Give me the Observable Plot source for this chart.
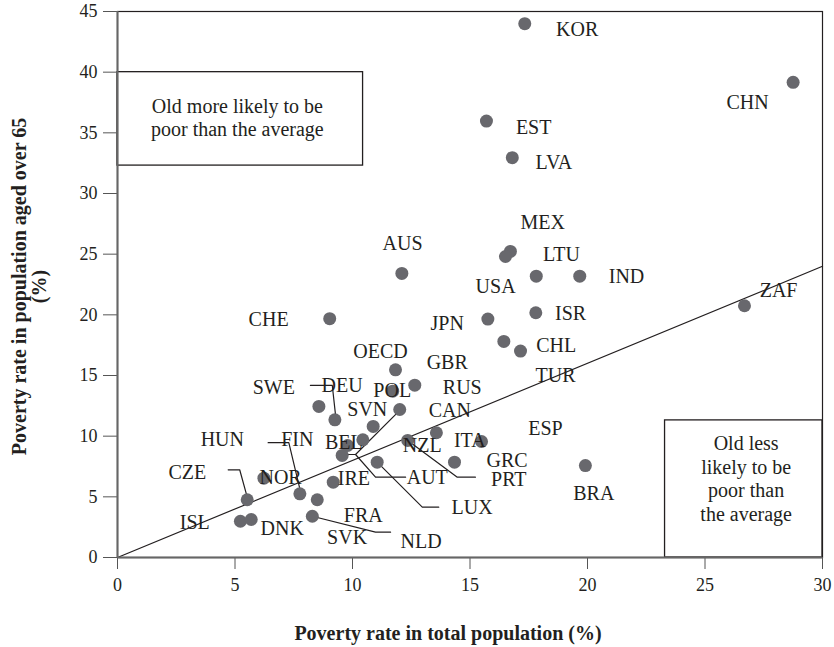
<!DOCTYPE html>
<html>
<head>
<meta charset="utf-8">
<script src="https://cdn.jsdelivr.net/npm/d3@7"></script>
<script src="https://cdn.jsdelivr.net/npm/@observablehq/plot@0.6"></script>
<style>
  body { margin: 0; background: #fff; }
  #chart svg { display: block; }
</style>
</head>
<body>
<div id="chart"></div>
<script>
// ---- Data ----
// Points: country, poverty rate in total population (%), poverty rate aged over 65 (%)
const countries = ["KOR","CHN","EST","LVA","MEX","USA","LTU","IND","AUS","ZAF","ISR","JPN","CHE","CHL","TUR","OECD","GBR","POL","SVN","SWE","DEU","RUS","BEL","HUN","AUT","LUX","CAN","NZL","ITA","GRC","BRA","IRE","FRA","FIN","SVK","NOR","CZE","ISL","DNK"];
const totalPoverty = [17.33,28.75,15.7,16.8,16.72,16.51,17.82,19.67,12.1,26.68,17.8,15.76,9.03,16.44,17.15,11.83,12.65,11.71,12.01,8.57,9.25,10.88,10.44,9.79,9.56,11.05,13.57,12.35,15.49,14.34,19.91,9.18,8.5,7.76,8.29,6.23,5.52,5.23,5.69];
const elderlyPoverty = [44.0,39.16,35.97,32.95,25.23,24.81,23.19,23.19,23.41,20.75,20.17,19.65,19.68,17.81,17.01,15.47,14.2,13.71,12.2,12.45,11.35,10.8,9.7,9.23,8.41,7.86,10.28,9.65,9.56,7.86,7.58,6.21,4.76,5.25,3.4,6.54,4.76,2.99,3.13];

// Country labels and where they sit (in data units)
const labelNames = ["KOR","CHN","EST","LVA","MEX","LTU","IND","AUS","USA","ZAF","ISR","CHE","JPN","OECD","CHL","GBR","TUR","SWE","DEU","POL","RUS","SVN","CAN","HUN","FIN","BEL","NZL","ITA","ESP","CZE","NOR","IRE","AUT","GRC","PRT","BRA","LUX","ISL","DNK","FRA","SVK","NLD"];
const labelX = [19.56,26.81,17.71,18.57,18.09,18.89,21.66,12.13,16.09,28.13,19.28,6.43,14.03,11.19,18.67,14.03,18.64,6.65,9.56,11.69,14.67,10.63,14.14,4.46,7.65,9.63,12.97,14.99,18.21,2.97,6.94,10.06,13.18,16.58,16.65,20.27,15.09,3.29,7.01,10.46,9.77,12.92];
const labelY = [43.5,37.53,35.47,32.54,27.61,24.98,23.19,25.89,22.34,22.01,20.12,19.58,19.29,17.01,17.48,16.1,15.0,14.04,14.18,13.77,14.02,12.2,12.12,9.7,9.7,9.51,9.23,9.65,10.61,7.03,6.62,6.49,6.62,8.0,6.43,5.25,4.15,2.91,2.37,3.46,1.67,1.34];

// Leader lines (polylines in data units)
const leaderLines = [
  [[8.21,14.18],[9.14,14.18],[9.28,11.71]],
  [[6.41,9.46],[7.29,9.46],[7.76,5.66]],
  [[4.71,7.23],[5.2,7.23],[5.52,4.97]],
  [[12.01,12.12],[10.13,8.49]],
  [[9.77,8.49],[10.13,8.49],[10.98,6.62],[12.26,6.62]],
  [[11.05,7.86],[12.97,4.15],[13.67,4.15]],
  [[12.35,9.65],[14.46,6.62],[15.23,6.62]],
  [[8.29,3.4],[10.98,2.09],[11.62,2.09]]
];

// Reference line
const refLineX = [0, 30];
const refLineY = [0, 24];

// Annotation boxes
const boxText = ["Old more likely to be\npoor than the average", "Old less\nlikely to be\npoor than\nthe average"];
const boxX1 = [0, 23.3];
const boxX2 = [10.45, 30];
const boxY1 = [32.3, 0];
const boxY2 = [40, 11.3];
const boxTextX = [5.1, 26.75];
const boxTextY = [36.3, 6.55];

// Axes
const xTicks = [0,5,10,15,20,25,30];
const yTicks = [0,5,10,15,20,25,30,35,40,45];
const xTitle = "Poverty rate in total population (%)";
const yTitle = "Poverty rate in population aged over 65\n(%)";

// ---- Build tables ----
const points = countries.map((c, i) => ({country: c, x: totalPoverty[i], y: elderlyPoverty[i]}));
const labels = labelNames.map((n, i) => ({name: n, x: labelX[i], y: labelY[i]}));
const leaders = leaderLines.flatMap((pts, g) => pts.map(([x, y]) => ({g, x, y})));
const ref = refLineX.map((x, i) => ({x, y: refLineY[i]}));
const boxes = boxText.map((t, i) => ({t, x1: boxX1[i], x2: boxX2[i], y1: boxY1[i], y2: boxY2[i], tx: boxTextX[i], ty: boxTextY[i]}));

const ink = "#231f20";
const font = "'Liberation Serif', 'Times New Roman', serif";

const chart = Plot.plot({
  width: 834,
  height: 647,
  marginLeft: 117,
  marginRight: 12,
  marginTop: 11,
  marginBottom: 90,
  style: {fontFamily: font, fontSize: "18px", color: ink, background: "#fff"},
  x: {domain: [0, 30]},
  y: {domain: [0, 45]},
  marks: [
    Plot.frame({stroke: ink, strokeWidth: 1.2}),
    Plot.rect(boxes, {x1: "x1", x2: "x2", y1: "y1", y2: "y2", fill: "none", stroke: ink, strokeWidth: 1.3}),
    Plot.text(boxes, {x: "tx", y: "ty", text: "t", fontSize: 20, fill: ink, lineHeight: 1.18}),
    Plot.line(ref, {x: "x", y: "y", stroke: ink, strokeWidth: 1.2}),
    Plot.line(leaders, {x: "x", y: "y", z: "g", stroke: ink, strokeWidth: 1.2}),
    Plot.dot(points, {x: "x", y: "y", r: 6.5, fill: "#68686d", stroke: "none"}),
    Plot.text(labels, {x: "x", y: "y", text: "name", fontSize: 20, fill: ink}),
    Plot.axisX({ticks: xTicks, tickSize: 12, tickPadding: 9, label: null, stroke: "#555", fill: ink, fontSize: 18}),
    Plot.axisY({ticks: yTicks, tickSize: 14, tickPadding: 6, label: null, stroke: "#555", fill: ink, fontSize: 18}),
    Plot.ruleX([0], {stroke: "#666", strokeWidth: 2}),
    Plot.ruleY([0], {stroke: "#666", strokeWidth: 2}),
    Plot.text([xTitle], {frameAnchor: "bottom", dy: 76, dx: -22, textAnchor: "middle", lineAnchor: "middle", fontWeight: "bold", fontSize: 20, fill: ink}),
    Plot.text([yTitle], {frameAnchor: "left", rotate: -90, dx: -88, dy: 2, textAnchor: "middle", lineAnchor: "middle", fontWeight: "bold", fontSize: 20, lineHeight: 1.0, fill: ink})
  ]
});

document.getElementById("chart").appendChild(chart);
</script>
</body>
</html>
